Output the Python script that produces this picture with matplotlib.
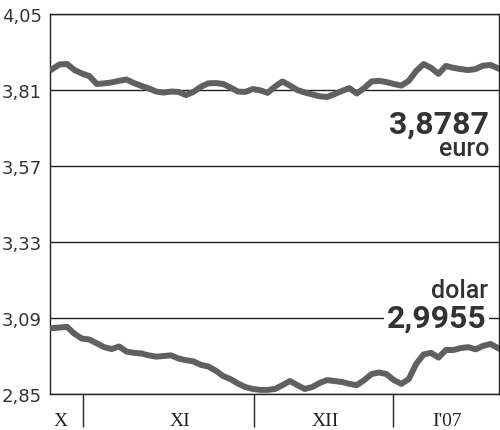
# Kursy euro i dolara (NBP), X.2006 - I.2007
import numpy as np
import matplotlib.pyplot as plt

# -------------------------------
# Data (one value per session)
# -------------------------------
euro = [3.876, 3.891, 3.892, 3.873, 3.862, 3.854, 3.829, 3.831, 3.834, 3.839,
        3.843, 3.832, 3.823, 3.815, 3.805, 3.802, 3.805, 3.804, 3.794, 3.804,
        3.820, 3.831, 3.832, 3.829, 3.818, 3.805, 3.804, 3.813, 3.809, 3.801,
        3.821, 3.837, 3.824, 3.810, 3.802, 3.796, 3.790, 3.788, 3.797, 3.807,
        3.816, 3.799, 3.816, 3.837, 3.839, 3.835, 3.829, 3.824, 3.839, 3.870,
        3.892, 3.880, 3.861, 3.886, 3.880, 3.876, 3.873, 3.876, 3.887, 3.889,
        3.8787]

dolar = [3.058, 3.060, 3.062, 3.040, 3.025, 3.022, 3.010, 2.998, 2.992, 3.000,
         2.984, 2.980, 2.978, 2.972, 2.968, 2.970, 2.972, 2.962, 2.957, 2.953,
         2.942, 2.937, 2.924, 2.907, 2.897, 2.883, 2.872, 2.866, 2.863, 2.863,
         2.866, 2.878, 2.891, 2.878, 2.866, 2.872, 2.885, 2.894, 2.891, 2.888,
         2.882, 2.878, 2.894, 2.913, 2.918, 2.913, 2.894, 2.882, 2.897, 2.945,
         2.975, 2.980, 2.965, 2.989, 2.989, 2.995, 2.998, 2.991, 3.002, 3.008,
         2.9955]

y_ticks = [2.85, 3.09, 3.33, 3.57, 3.81, 4.05]
y_labels = ["2,85", "3,09", "3,33", "3,57", "3,81", "4,05"]

month_breaks = [4.2, 27.2, 45.9]
month_pos = [1.1, 17.2, 36.7, 53.2]
month_labels = ["X", "XI", "XII", "I'07"]

euro_last = "3,8787"
dolar_last = "2,9955"

# -------------------------------
# Figure
# -------------------------------
fig = plt.figure(figsize=(5.0, 4.31), dpi=100)
ax = fig.add_axes([0.1, 0.0835, 0.898, 0.8817])

x = np.arange(len(euro))
line_col = "#606060"
ax.plot(x, euro, color=line_col, lw=4.3, solid_joinstyle="round", zorder=3)
ax.plot(x, dolar, color=line_col, lw=4.3, solid_joinstyle="round", zorder=3)

ax.set_xlim(-0.3, 60.15)
ax.set_ylim(2.85, 4.05)

# horizontal grid
ax.set_yticks(y_ticks)
ax.set_yticklabels(y_labels, fontsize=13, color="#333333", family="DejaVu Sans")
ax.tick_params(axis="y", length=0, pad=6)
ax.grid(axis="y", color="#222222", lw=1.0)

for s in ax.spines.values():
    s.set_color("#222222")
    s.set_linewidth(1.0)

# month separators and labels
ax.set_xticks(month_breaks)
ax.set_xticklabels([""] * len(month_breaks))
ax.tick_params(axis="x", which="major", length=24, width=1.0, color="#222222",
               direction="out")
ax.set_xticks(month_pos, minor=True)
ax.set_xticklabels(month_labels, minor=True, fontsize=14, color="#222222",
                   family="Liberation Serif")
ax.tick_params(axis="x", which="minor", length=0, pad=13)

# last values
txt = "#333333"
tr = ax.get_yaxis_transform()
ax.text(0.978, 3.704, euro_last, transform=tr, ha="right", va="center",
        fontsize=23, fontweight="bold", color=txt, family="Roboto")
ax.text(0.978, 3.626, "euro", transform=tr, ha="right", va="center",
        fontsize=18, fontweight="medium", color=txt, family="Roboto")
ax.text(0.976, 3.178, "dolar", transform=tr, ha="right", va="center",
        fontsize=18, fontweight="medium", color=txt, family="Roboto")
ax.text(0.972, 3.09, dolar_last, transform=tr, ha="right", va="center",
        fontsize=23, fontweight="bold", color=txt, family="Roboto",
        bbox=dict(facecolor="white", edgecolor="none", pad=1.5), zorder=4)

fig.savefig("out.png", dpi=100)
